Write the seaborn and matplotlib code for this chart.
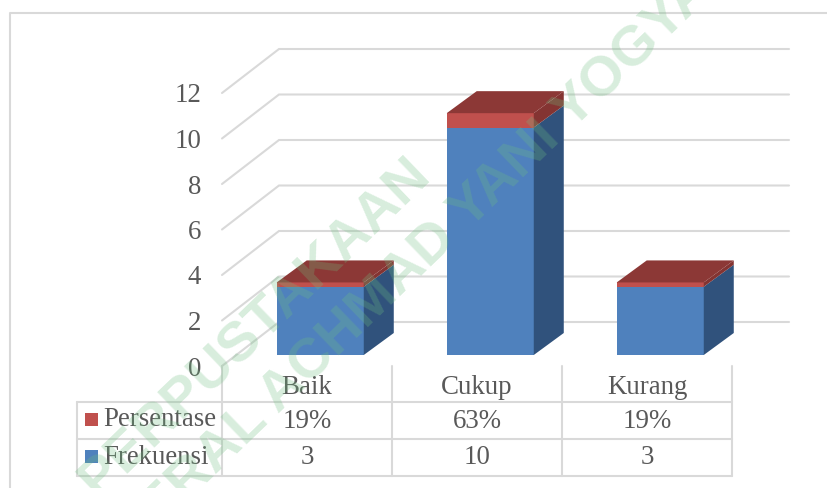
import matplotlib
matplotlib.use('Agg')
import matplotlib.pyplot as plt
import pandas as pd
import seaborn as sns

# --- data ---
kategori = ['Baik', 'Cukup', 'Kurang']
frekuensi = [3, 10, 3]
persentase = [0.19, 0.63, 0.19]
persen_label = ['19%', '63%', '19%']
y_ticks = [0, 2, 4, 6, 8, 10, 12]

df = pd.DataFrame({'Kategori': kategori, 'Frekuensi': frekuensi, 'Persentase': persentase})
df['Total'] = df['Frekuensi'] + df['Persentase']

sns.set_theme(style='white')
plt.rcParams['font.family'] = ['Liberation Serif', 'DejaVu Serif']

W, H = 828, 488
fig = plt.figure(figsize=(W / 100, H / 100), dpi=100)
fig.patch.set_facecolor('white')

# bar plane in pixels: 235..745 wide, zero at y=355, 12 at y=82
ax = fig.add_axes([235.25 / W, 1 - 355 / H, 510 / W, 273 / H])
ax.patch.set_alpha(0)

PX_X = 170.0   # pixels per category
PX_Y = 22.75   # pixels per unit

GRID = '#D9D9D9'
TEXT = '#595959'
FS = 19.4
BLUE, BLUE_SIDE = '#4F81BD', '#30527C'
RED, RED_SIDE, RED_TOP = '#C0504D', '#843432', '#8C3836'

# --- 1. front faces, red on top of blue ---
sns.barplot(data=df, x='Kategori', y='Total', color=RED, saturation=1, width=0.512, ax=ax,
            zorder=3, linewidth=0, edgecolor='none')
n_red = len(ax.patches)
sns.barplot(data=df, x='Kategori', y='Frekuensi', color=BLUE, saturation=1, width=0.512, ax=ax,
            zorder=3, linewidth=0, edgecolor='none')
ax.set_xlim(-0.5, 2.5)
ax.set_ylim(0, 12)
ax.axis('off')

# --- 2. side and top faces of the boxes ---
dx = 30 / PX_X
dy = 22 / PX_Y
red_bars = ax.patches[:n_red]
blue_bars = ax.patches[n_red:]
for red, blue in zip(red_bars, blue_bars):
    x1 = red.get_x() + red.get_width()
    x0 = red.get_x()
    top = red.get_height()
    mid = blue.get_height()
    ax.fill([x1, x1 + dx, x1 + dx, x1], [0, dy, mid + dy, mid], color=BLUE_SIDE, lw=0, zorder=3, clip_on=False)
    ax.fill([x1, x1 + dx, x1 + dx, x1], [mid, mid + dy, top + dy, top], color=RED_SIDE, lw=0, zorder=3, clip_on=False)
    ax.fill([x0, x0 + dx, x1 + dx, x1], [top, top + dy, top + dy, top], color=RED_TOP, lw=0, zorder=3, clip_on=False)

# --- 3. walls: gridlines running from the front edge to the back ---
front_x = -0.5 - 13.25 / PX_X
back_x = -0.5 + 43.75 / PX_X
end_x = 2.5 + 43.75 / PX_X
for v in y_ticks:
    ax.plot([front_x, back_x, end_x],
            [v - 11 / PX_Y, v + 33 / PX_Y, v + 33 / PX_Y],
            color=GRID, lw=1.5, zorder=1, clip_on=False, solid_joinstyle='miter')
    ax.text(front_x - 21 / PX_X, v - 14 / PX_Y, str(v), ha='right', va='center',
            fontsize=FS, color=TEXT, clip_on=False)

# --- 4. data table and frame, drawn in pixel coordinates ---
over = fig.add_axes([0, 0, 1, 1], zorder=5)
over.set_xlim(0, W)
over.set_ylim(H, 0)
over.axis('off')
over.patch.set_alpha(0)

over.plot([10, 10, 828], [488, 13, 13], color=GRID, lw=1.5, clip_on=False)
for x in [222, 392, 562, 732]:
    over.plot([x, x], [366, 476], color=GRID, lw=1.5)
for y in [402, 439, 476]:
    over.plot([77, 732], [y, y], color=GRID, lw=1.5)
over.plot([77, 77], [402, 476], color=GRID, lw=1.5)

col_x = [307, 477, 647]
rows = [(388, kategori), (421, persen_label), (457, [str(f) for f in frekuensi])]
for y, labels in rows:
    for x, lab in zip(col_x, labels):
        over.text(x, y, lab, ha='center', va='center', fontsize=FS, color=TEXT)

for y, name, col in [(420, 'Persentase', RED), (457, 'Frekuensi', BLUE)]:
    over.fill([85, 98, 98, 85], [y - 7, y - 7, y + 6, y + 6], color=col, lw=0)
    over.text(103, y, name, ha='left', va='center', fontsize=FS, color=TEXT)

# --- 5. watermark ---
wm = dict(color='#6FBF80', alpha=0.27, fontsize=40.5, fontweight='bold', rotation=44,
          rotation_mode='anchor', ha='center', va='center', family=['Liberation Sans'])
over.text(255, 328, 'PERPUSTAKAAN', clip_on=True, **wm)
over.text(443, 236, 'JENDERAL ACHMAD YANI YOGYAKARTA', clip_on=True, **wm)

fig.savefig('out.png', dpi=100)
plt.close(fig)
